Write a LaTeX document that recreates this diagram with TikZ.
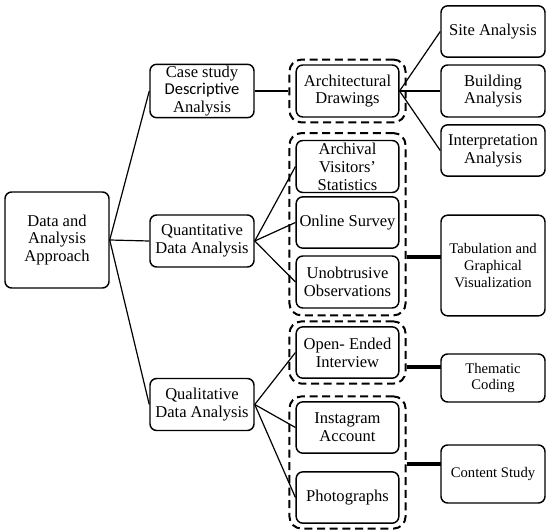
\documentclass[tikz,border=0pt]{standalone}
\usepackage{fontspec}
\setmainfont{Liberation Serif}
\newfontfamily\calib{Carlito}
\usetikzlibrary{fit}

\newcommand{\boxsz}{\fontsize{12.4}{13.4}\selectfont}
\newcommand{\smallsz}{\fontsize{11}{12.4}\selectfont}

\tikzset{
  box/.style={draw, line width=1.1pt, rounded corners=5pt, align=center, inner sep=1pt,
    minimum width=78pt, minimum height=39pt, font=\boxsz},
  grp/.style={draw, line width=1.5pt, dash pattern=on 6pt off 3.5pt, rounded corners=9pt,
    inner xsep=4.5pt, inner ysep=3.5pt},
  link/.style={line width=0.9pt},
  bar/.style={line width=2.4pt}
}

\begin{document}
\begin{tikzpicture}[x=0.75pt,y=0.75pt,yscale=-1,xscale=1]
\useasboundingbox (0,0) rectangle (550,532);

%Shape: Rectangle
\node[box, minimum height=72pt] (data) at (57,240) {Data and\\Analysis\\Approach};
%Shape: Rectangle
\node[box] (case) at (202,91) {Case study\\{\calib Descriptive}\\Analysis};
%Shape: Rectangle
\node[box] (quant) at (202,241) {Quantitative\\Data Analysis};
%Shape: Rectangle
\node[box] (qual) at (202,404.5) {Qualitative\\Data Analysis};

%Shape: Rectangle
\node[box, minimum width=77pt] (arch) at (347.5,91) {Architectural\\Drawings};
%Shape: Rectangle
\node[box, minimum width=77pt] (archv) at (347.5,166.5) {Archival\\Visitors’\\Statistics};
%Shape: Rectangle
\node[box, minimum width=77pt, minimum height=38.5pt] (online) at (347.5,222.5) {Online Survey};
%Shape: Rectangle
\node[box, minimum width=77pt] (unob) at (347.5,282) {Unobtrusive\\Observations};
%Shape: Rectangle
\node[box, minimum width=77pt, minimum height=38.5pt] (open) at (347.5,352.5) {Open- Ended\\Interview};
%Shape: Rectangle
\node[box, minimum width=77pt, minimum height=38.5pt] (insta) at (347.5,427.5) {Instagram\\Account};
%Shape: Rectangle
\node[box, minimum width=77pt, minimum height=38.5pt] (photo) at (347.5,497.5) {Photographs};

%Shape: Rectangle
\node[box, minimum height=38.5pt] (site) at (493,31.5) {Site Analysis};
%Shape: Rectangle
\node[box] (build) at (493,91) {Building\\Analysis};
%Shape: Rectangle
\node[box, minimum height=38.5pt] (interp) at (493,150.5) {Interpretation\\Analysis};
%Shape: Rectangle
\node[box, minimum height=75.5pt, font=\smallsz] (tab) at (493,265.5) {Tabulation and\\Graphical\\Visualization};
%Shape: Rectangle
\node[box, minimum height=36pt, font=\smallsz] (them) at (493,378) {Thematic\\Coding};
%Shape: Rectangle
\node[box, minimum height=43.5pt, font=\smallsz] (cont) at (493,474) {Content Study};

%Dashed groups
\node[grp, fit=(arch)] (grp1) {};
\node[grp, fit=(archv)(unob), inner ysep=5pt] (grp2) {};
\node[grp, fit=(open)] (grp3) {};
\node[grp, fit=(insta)(photo)] (grp4) {};

%Straight Lines
\draw[link] (data.east) -- (case.west);
\draw[link] (data.east) -- (quant.west);
\draw[link] (data.east) -- (qual.west);
\draw[link] (case.east) -- (grp1.west);
\draw[link] (arch.east) -- (site.west);
\draw[link] (arch.east) -- (build.west);
\draw[link] (arch.east) -- (interp.west);
\draw[link] (quant.east) -- (archv.west);
\draw[link] (quant.east) -- (online.west);
\draw[link] (quant.east) -- (unob.west);
\draw[link] (qual.east) -- (open.west);
\draw[link] (qual.east) -- (insta.west);
\draw[link] (qual.east) -- (photo.west);

%Thick Lines
\coordinate (j2) at (441,257);
\coordinate (j3) at (441,367);
\coordinate (j4) at (441,464);
\draw[bar] (j2 -| grp2.east) -- (j2);
\draw[bar] (j3 -| grp3.east) -- (j3);
\draw[bar] (j4 -| grp4.east) -- (j4);

\end{tikzpicture}
\end{document}
